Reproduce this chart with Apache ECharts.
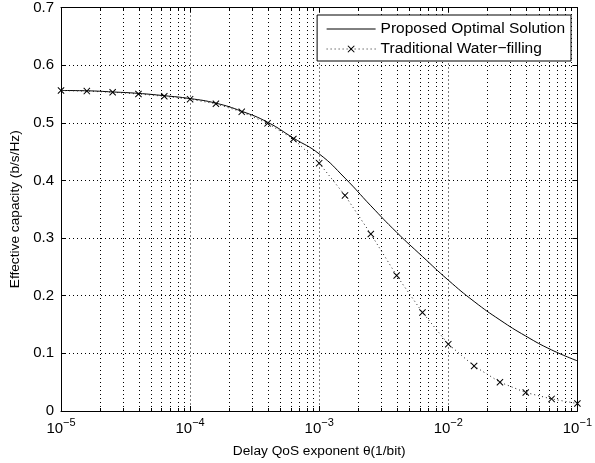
<!DOCTYPE html>
<html>
<head>
<meta charset="utf-8">
<script src="https://cdn.jsdelivr.net/npm/echarts@6/dist/echarts.min.js"></script>
<style>
html,body{margin:0;padding:0;background:#fff;}
#chart{width:595px;height:463px;}
</style>
</head>
<body>
<div id="chart"></div>
<script>
// Delay QoS exponent theta (1/bit)
const theta = [1.0e-5, 1.585e-5, 2.512e-5, 3.981e-5, 6.310e-5,
               1.0e-4, 1.585e-4, 2.512e-4, 3.981e-4, 6.310e-4,
               1.0e-3, 1.585e-3, 2.512e-3, 3.981e-3, 6.310e-3,
               1.0e-2, 1.585e-2, 2.512e-2, 3.981e-2, 6.310e-2, 1.0e-1];
// Effective capacity (b/s/Hz)
const proposed = [0.556, 0.5555, 0.5535, 0.551, 0.547, 0.542, 0.534, 0.520, 0.501, 0.4735,
                  0.446, 0.404, 0.356, 0.310, 0.268, 0.227, 0.190, 0.158, 0.130, 0.106, 0.087];
const traditional = [0.556, 0.555, 0.553, 0.550, 0.546, 0.541, 0.533, 0.519, 0.499, 0.472,
                     0.430, 0.374, 0.307, 0.235, 0.171, 0.116, 0.078, 0.050, 0.032, 0.021, 0.013];
const seriesNames = ['Proposed Optimal Solution', 'Traditional Water\u2212filling'];
const yTicks = [0, 0.1, 0.2, 0.3, 0.4, 0.5, 0.6, 0.7];
const decades = [1e-5, 1e-4, 1e-3, 1e-2, 1e-1];
const minorMult = [2, 3, 4, 5, 6, 7, 8, 9];

const minorVals = [];
for (let d = 0; d < decades.length - 1; d++) {
  for (const m of minorMult) minorVals.push(+(decades[d] * m).toPrecision(3));
}

const FONT = 'Liberation Sans, Arial, Helvetica, sans-serif';
const dotStyle = {type: [1, 3], color: '#000', width: 1};
const xRange = {min: decades[0], max: decades[decades.length - 1]};
const yRange = {min: yTicks[0], max: yTicks[yTicks.length - 1], interval: 0.1};

const xCommon = {
  type: 'log', logBase: 10, min: xRange.min, max: xRange.max,
  axisLine: {show: true, onZero: false, lineStyle: {color: '#000', width: 1}},
  axisTick: {show: true, inside: true, length: 5, lineStyle: {color: '#000'}},
  minorTick: {show: false}
};
const yCommon = {
  type: 'value', min: yRange.min, max: yRange.max, interval: yRange.interval,
  axisLine: {show: true, onZero: false, lineStyle: {color: '#000', width: 1}},
  axisTick: {show: true, inside: true, length: 5, lineStyle: {color: '#000'}}
};

const cross = 'path://M0,1 L1,0 L5,4 L9,0 L10,1 L6,5 L10,9 L9,10 L5,6 L1,10 L0,9 L4,5 Z';

function renderMinor(params, api) {
  const v = api.value(0);
  const b = api.coord([v, yRange.min]);
  const t = api.coord([v, yRange.max]);
  const x = Math.round(b[0]) + 0.5;
  return {
    type: 'group',
    children: [
      {type: 'line', shape: {x1: x, y1: b[1], x2: x, y2: t[1]},
       style: {stroke: '#000', lineWidth: 1, lineDash: [1, 3]}},
      {type: 'line', shape: {x1: x, y1: b[1], x2: x, y2: b[1] - 3},
       style: {stroke: '#000', lineWidth: 1}},
      {type: 'line', shape: {x1: x, y1: t[1], x2: x, y2: t[1] + 3},
       style: {stroke: '#000', lineWidth: 1}}
    ]
  };
}

const chart = echarts.init(document.getElementById('chart'), null, {renderer: 'canvas'});
chart.setOption({
  animation: false,
  backgroundColor: '#fff',
  textStyle: {fontFamily: FONT},
  grid: {left: 61, right: 14, top: 7, bottom: 52, containLabel: false},
  legend: {
    orient: 'vertical', right: 24, top: 15,
    data: [
      {name: seriesNames[0], itemStyle: {opacity: 0}},
      {name: seriesNames[1]}
    ],
    itemWidth: 49, itemHeight: 9, itemGap: 4,
    padding: [6, 6, 4, 9],
    lineStyle: {width: 1},
    backgroundColor: '#fff', borderColor: '#000', borderWidth: 1, borderRadius: 0,
    textStyle: {fontFamily: FONT, fontSize: 15.5, lineHeight: 16, color: '#000'}
  },
  xAxis: [
    Object.assign({}, xCommon, {
      position: 'bottom',
      name: 'Delay QoS exponent \u03b8(1/bit)', nameLocation: 'middle', nameGap: 33,
      nameTextStyle: {fontFamily: FONT, fontSize: 13.7, color: '#000'},
      axisLabel: {
        show: true, margin: 6, color: '#000',
        formatter: function (v) {
          const e = Math.round(Math.log10(v));
          return '{b|10}{s|' + (e < 0 ? '\u2212' : '') + Math.abs(e) + '}';
        },
        rich: {
          b: {fontFamily: FONT, fontSize: 15, color: '#000', verticalAlign: 'bottom'},
          s: {fontFamily: FONT, fontSize: 11, color: '#000', verticalAlign: 'bottom', padding: [0, 0, 8, 0]}
        }
      },
      splitLine: {show: true, lineStyle: dotStyle}
    }),
    Object.assign({}, xCommon, {
      position: 'top', axisLabel: {show: false}, splitLine: {show: false}
    })
  ],
  yAxis: [
    Object.assign({}, yCommon, {
      position: 'left',
      name: 'Effective capacity (b/s/Hz)', nameLocation: 'middle', nameGap: 35,
      nameTextStyle: {fontFamily: FONT, fontSize: 13.7, color: '#000'},
      axisLabel: {
        show: true, margin: 7, color: '#000', fontFamily: FONT, fontSize: 15,
        formatter: function (v) { return v === 0 ? '0' : v.toFixed(1); }
      },
      splitLine: {show: true, lineStyle: dotStyle}
    }),
    Object.assign({}, yCommon, {
      position: 'right', axisLabel: {show: false}, splitLine: {show: false}
    })
  ],
  series: [
    {
      name: 'minorgrid', type: 'custom', xAxisIndex: 0, yAxisIndex: 0,
      data: minorVals.map(v => [v, yRange.min]),
      encode: {x: 0, y: 1},
      renderItem: renderMinor, silent: true, clip: false, z: 1
    },
    {
      name: seriesNames[0], type: 'line', xAxisIndex: 0, yAxisIndex: 0,
      data: theta.map((t, i) => [t, proposed[i]]),
      smooth: 0.5, showSymbol: false, symbol: 'none',
      lineStyle: {color: '#000', width: 1, type: 'solid'},
      itemStyle: {color: '#000'},
      z: 5
    },
    {
      name: seriesNames[1], type: 'line', xAxisIndex: 0, yAxisIndex: 0,
      data: theta.map((t, i) => [t, traditional[i]]),
      smooth: false, symbol: cross, symbolSize: 7, showSymbol: true,
      lineStyle: {color: '#222', width: 1, type: [1, 3]},
      itemStyle: {color: '#000'},
      z: 6
    }
  ]
});
</script>
</body>
</html>
